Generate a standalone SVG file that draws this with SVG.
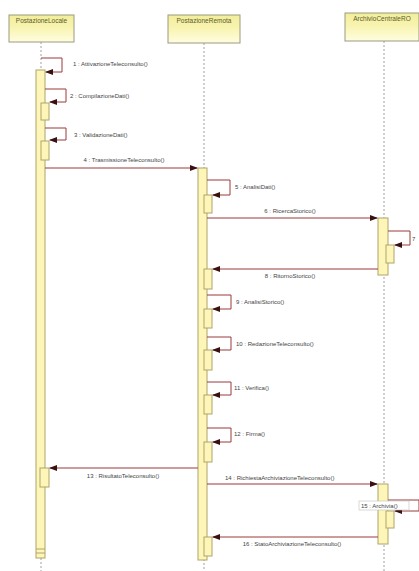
<svg xmlns="http://www.w3.org/2000/svg" width="419" height="571" viewBox="0 0 419 571">
<defs>
<linearGradient id="hg" x1="0" y1="0" x2="0" y2="1">
<stop offset="0" stop-color="#f3ee9a"/>
<stop offset="0.45" stop-color="#f8f4b0"/>
<stop offset="1" stop-color="#fffde0"/>
</linearGradient>
<marker id="ah" markerWidth="8" markerHeight="6" refX="7" refY="3" orient="auto" markerUnits="userSpaceOnUse">
<path d="M0,0 L8,3 L0,6 z" fill="#3a1010"/>
</marker>
<style>
.hdr{fill:url(#hg);stroke:#9a9a80;stroke-width:1}
.ht{font-family:"Liberation Sans",Arial,sans-serif;font-size:6.5px;fill:#5a5a30}
.life{stroke:#a0a0a0;stroke-width:1;stroke-dasharray:2,2;fill:none}
.bar{fill:#fdf6b8;stroke:#b0a468;stroke-width:1}
.msg{stroke:#9a3a3a;stroke-width:1;fill:none;marker-end:url(#ah)}
.lbl{font-family:"Liberation Sans",Arial,sans-serif;font-size:6px;fill:#444}
</style>
</defs>
<g id="lifelines">
<line class="life" x1="41" y1="42" x2="41" y2="571"/>
<line class="life" x1="204" y1="43" x2="204" y2="571"/>
<line class="life" x1="384" y1="41" x2="384" y2="571"/>
</g>
<g id="PostazioneLocale">
<rect class="hdr" x="9" y="15" width="65" height="27"/>
<text class="ht" x="41.5" y="23" text-anchor="middle">PostazioneLocale</text>
</g>
<g id="PostazioneRemota">
<rect class="hdr" x="168" y="15" width="72" height="28"/>
<text class="ht" x="204" y="23" text-anchor="middle">PostazioneRemota</text>
</g>
<g id="ArchivioCentrale">
<rect class="hdr" x="345" y="13" width="74" height="28"/>
<text class="ht" x="382" y="21" text-anchor="middle">ArchivioCentraleRO</text>
</g>
<g id="activations">
<rect class="bar" x="36" y="70" width="9" height="488"/>
<line x1="36" y1="549" x2="45" y2="549" stroke="#b0a468"/>
<line x1="36" y1="553" x2="45" y2="553" stroke="#b0a468"/>
<rect class="bar" x="41" y="103" width="8" height="17"/>
<rect class="bar" x="41" y="141" width="8" height="19"/>
<rect class="bar" x="40" y="468" width="9" height="19"/>
<rect class="bar" x="198" y="168" width="9" height="392"/>
<rect class="bar" x="204" y="195" width="8" height="18"/>
<rect class="bar" x="204" y="269" width="8" height="20"/>
<rect class="bar" x="204" y="309" width="8" height="19"/>
<rect class="bar" x="204" y="350" width="8" height="20"/>
<rect class="bar" x="204" y="395" width="8" height="19"/>
<rect class="bar" x="204" y="442" width="8" height="20"/>
<rect class="bar" x="204" y="537" width="8" height="19"/>
<rect class="bar" x="378" y="218" width="10" height="57"/>
<rect class="bar" x="386" y="245" width="8" height="18"/>
<rect class="bar" x="378" y="484" width="10" height="60"/>
<rect class="bar" x="386" y="511" width="8" height="17"/>
</g>
<g id="connectors">
<path class="msg" d="M41,58 H62 V72 H46"/>
<path class="msg" d="M45,89 H66 V102 H50"/>
<path class="msg" d="M45,128 H66 V140 H50"/>
<path class="msg" d="M45,168 H197"/>
<path class="msg" d="M207,180 H230 V195 H213"/>
<path class="msg" d="M207,218 H377"/>
<path class="msg" d="M388,231 H410 V245 H395"/>
<path class="msg" d="M378,269 H213"/>
<path class="msg" d="M207,295 H231 V309 H213"/>
<path class="msg" d="M207,337 H231 V350 H213"/>
<path class="msg" d="M207,382 H231 V395 H213"/>
<path class="msg" d="M207,428 H231 V442 H213"/>
<path class="msg" d="M198,468 H50"/>
<path class="msg" d="M207,484 H377"/>
<path class="msg" d="M388,500 H419 V511 H395"/>
<path class="msg" d="M378,537 H213"/>
</g>
<g id="labels">
<text class="lbl" x="73" y="66">1 : AttivazioneTeleconsulto()</text>
<text class="lbl" x="70" y="98">2 : CompilazioneDati()</text>
<text class="lbl" x="74" y="137">3 : ValidazioneDati()</text>
<text class="lbl" x="124" y="162" text-anchor="middle">4 : TrasmissioneTeleconsulto()</text>
<text class="lbl" x="235" y="189">5 : AnalisiDati()</text>
<text class="lbl" x="290" y="213" text-anchor="middle">6 : RicercaStorico()</text>
<text class="lbl" x="412" y="241">7</text>
<text class="lbl" x="290" y="278" text-anchor="middle">8 : RitornoStorico()</text>
<text class="lbl" x="236" y="304">9 : AnalisiStorico()</text>
<text class="lbl" x="236" y="346">10 : RedazioneTeleconsulto()</text>
<text class="lbl" x="234" y="390">11 : Verifica()</text>
<text class="lbl" x="234" y="436">12 : Firma()</text>
<text class="lbl" x="123" y="478" text-anchor="middle">13 : RisultatoTeleconsulto()</text>
<text class="lbl" x="225" y="480">14 : RichiestaArchiviazioneTeleconsulto()</text>
<rect x="359" y="501" width="50" height="9" fill="#fff" stroke="#c0c0c0" stroke-width="0.6"/>
<text class="lbl" x="361" y="508">15 : Archivia()</text>
<text class="lbl" x="292" y="546" text-anchor="middle">16 : StatoArchiviazioneTeleconsulto()</text>
</g>
</svg>
